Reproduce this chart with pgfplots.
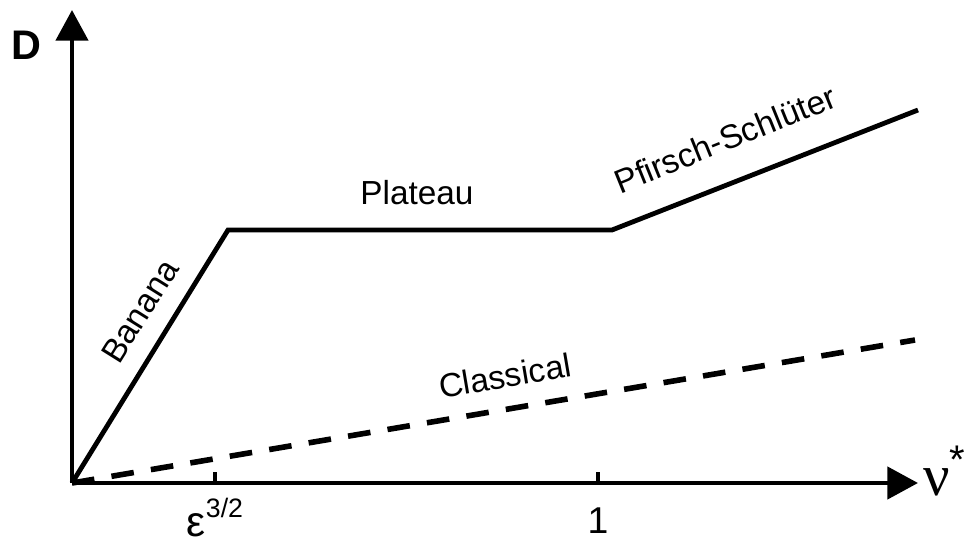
\documentclass[border=0pt]{standalone}
\usepackage{pgfplots}
\pgfplotsset{compat=1.18}
\usetikzlibrary{arrows.meta}
\usepackage{fontspec}
\setmainfont{Liberation Sans}
\newfontfamily\serifgreek{Liberation Serif}
\begin{document}
\begin{tikzpicture}
\begin{axis}[
  scale only axis,
  x=0.75pt, y=0.75pt,
  xmin=0, xmax=846, ymin=0, ymax=473,
  axis lines=left,
  axis line style={line width=3.4pt, -{Triangle[length=23pt,width=24pt]}},
  xtick={143,526},
  xticklabels={},
  ytick=\empty,
  tick align=inside,
  major tick length=8pt,
  xtick style={line width=2.4pt, black},
  clip=false,
]
\addplot[line width=3.6pt, black] coordinates {(0,0) (156,253) (540,253) (846,373)};
\addplot[line width=4.2pt, black, dash pattern=on 17pt off 13pt] coordinates {(0,0) (843,143)};
\node[rotate=58, font=\fontsize{25}{28}\selectfont] at (axis cs:68,172) {Banana};
\node[font=\fontsize{25}{28}\selectfont] at (axis cs:345,290) {Plateau};
\node[rotate=22, font=\fontsize{25}{28}\selectfont] at (axis cs:653,344) {Pfirsch-Schlüter};
\node[rotate=9.6, font=\fontsize{25}{28}\selectfont] at (axis cs:433,107) {Classical};
\node[anchor=base, font=\fontsize{28}{30}\selectfont] at (axis cs:526,-50) {1};
\node[anchor=base, inner sep=0pt] at (axis cs:143,-53) {{\fontsize{32}{34}\selectfont ε}\raisebox{14pt}{\fontsize{20}{22}\selectfont 3/2}};
\node[anchor=base west, inner sep=0pt] at (axis cs:851,-12) {{\serifgreek\fontsize{44}{46}\selectfont ν}\raisebox{16pt}{\fontsize{30}{32}\selectfont *}};
\node[font=\bfseries\fontsize{31}{34}\selectfont] at (axis cs:-46,438) {D};
\coordinate (bl) at (axis cs:-72,-57);
\coordinate (tr) at (axis cs:901,483);
\end{axis}
\pgfresetboundingbox
\path[use as bounding box] (bl) rectangle (tr);
\end{tikzpicture}
\end{document}
